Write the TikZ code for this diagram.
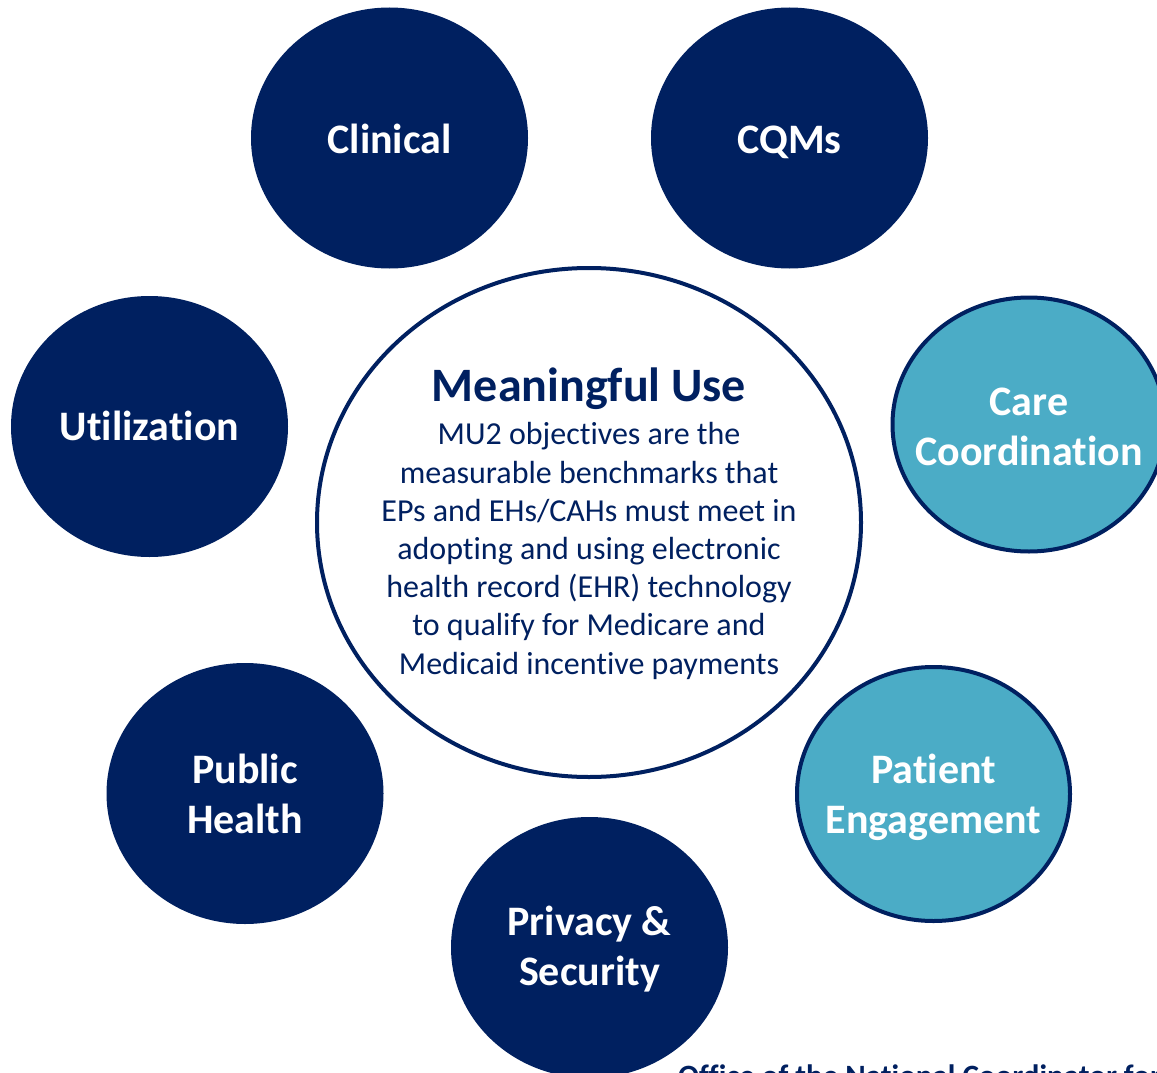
\documentclass[tikz,border=0pt]{standalone}
\usepackage{fontspec}
\setmainfont{Carlito}[Ligatures=NoCommon]
\usetikzlibrary{shapes.geometric}
\definecolor{navy}{HTML}{002060}
\definecolor{teal}{HTML}{4BACC6}
\tikzset{
  navycirc/.style={ellipse, fill=navy, inner sep=0pt, minimum width=277pt, minimum height=261pt},
  tealcirc/.style={ellipse, fill=teal, draw=navy, line width=4pt, inner sep=0pt, minimum width=273pt, minimum height=254pt},
  centercirc/.style={ellipse, fill=white, draw=navy, line width=4pt, inner sep=0pt, minimum width=544pt, minimum height=509pt},
  lbl/.style={text=white, font=\fontsize{42}{50}\selectfont\bfseries, align=center, anchor=base, inner sep=0pt},
  title/.style={text=navy, font=\fontsize{48}{56}\selectfont\bfseries, anchor=base, inner sep=0pt},
  body/.style={text=navy, font=\fontsize{32}{38.2}\selectfont, align=center, anchor=base, inner sep=0pt},
  footer/.style={text=navy, font=\fontsize{31}{38}\selectfont\bfseries, anchor=base west, inner sep=0pt}
}
\begin{document}
\begin{tikzpicture}[x=1pt, y=-1pt]
\clip (0,0) rectangle (1157,1073);
\fill[white] (0,0) rectangle (1157,1073);
% circles
\node[navycirc] (clinical) at (389.5,138) {};
\node[navycirc] (cqms) at (789.5,138) {};
\node[navycirc] (util) at (149.5,426.5) {};
\node[tealcirc] (care) at (1029,424.5) {};
\node[centercirc] (mu) at (589,522.5) {};
\node[navycirc] (public) at (245,793.5) {};
\node[tealcirc] (patient) at (933.5,794) {};
\node[navycirc] (privacy) at (589.5,947.5) {};
% labels (base anchor = last line baseline)
\node[lbl] (clinicalT) at (389.5,153) {Clinical};
\node[lbl] (cqmsT) at (789.5,153) {CQMs};
\node[lbl] (utilT) at (149.5,440) {Utilization};
\node[lbl] (careT) at (1029,465) {Care\\Coordination};
\node[lbl] (publicT) at (245,833) {Public\\Health};
\node[lbl] (patientT) at (933.5,833) {Patient\\Engagement};
\node[lbl] (privacyT) at (589.5,985) {Privacy \&\\Security};
% center text
\node[title] (muT) at (589,401) {Meaningful Use};
\node[body] (muB) at (589,674) {MU2 objectives are the\\measurable benchmarks that\\EPs and EHs/CAHs must meet in\\adopting and using electronic\\health record (EHR) technology\\to qualify for Medicare and\\Medicaid incentive payments};
% footer
\node[footer] (foot) at (678,1086) {Office of the National Coordinator for};
\end{tikzpicture}
\end{document}
